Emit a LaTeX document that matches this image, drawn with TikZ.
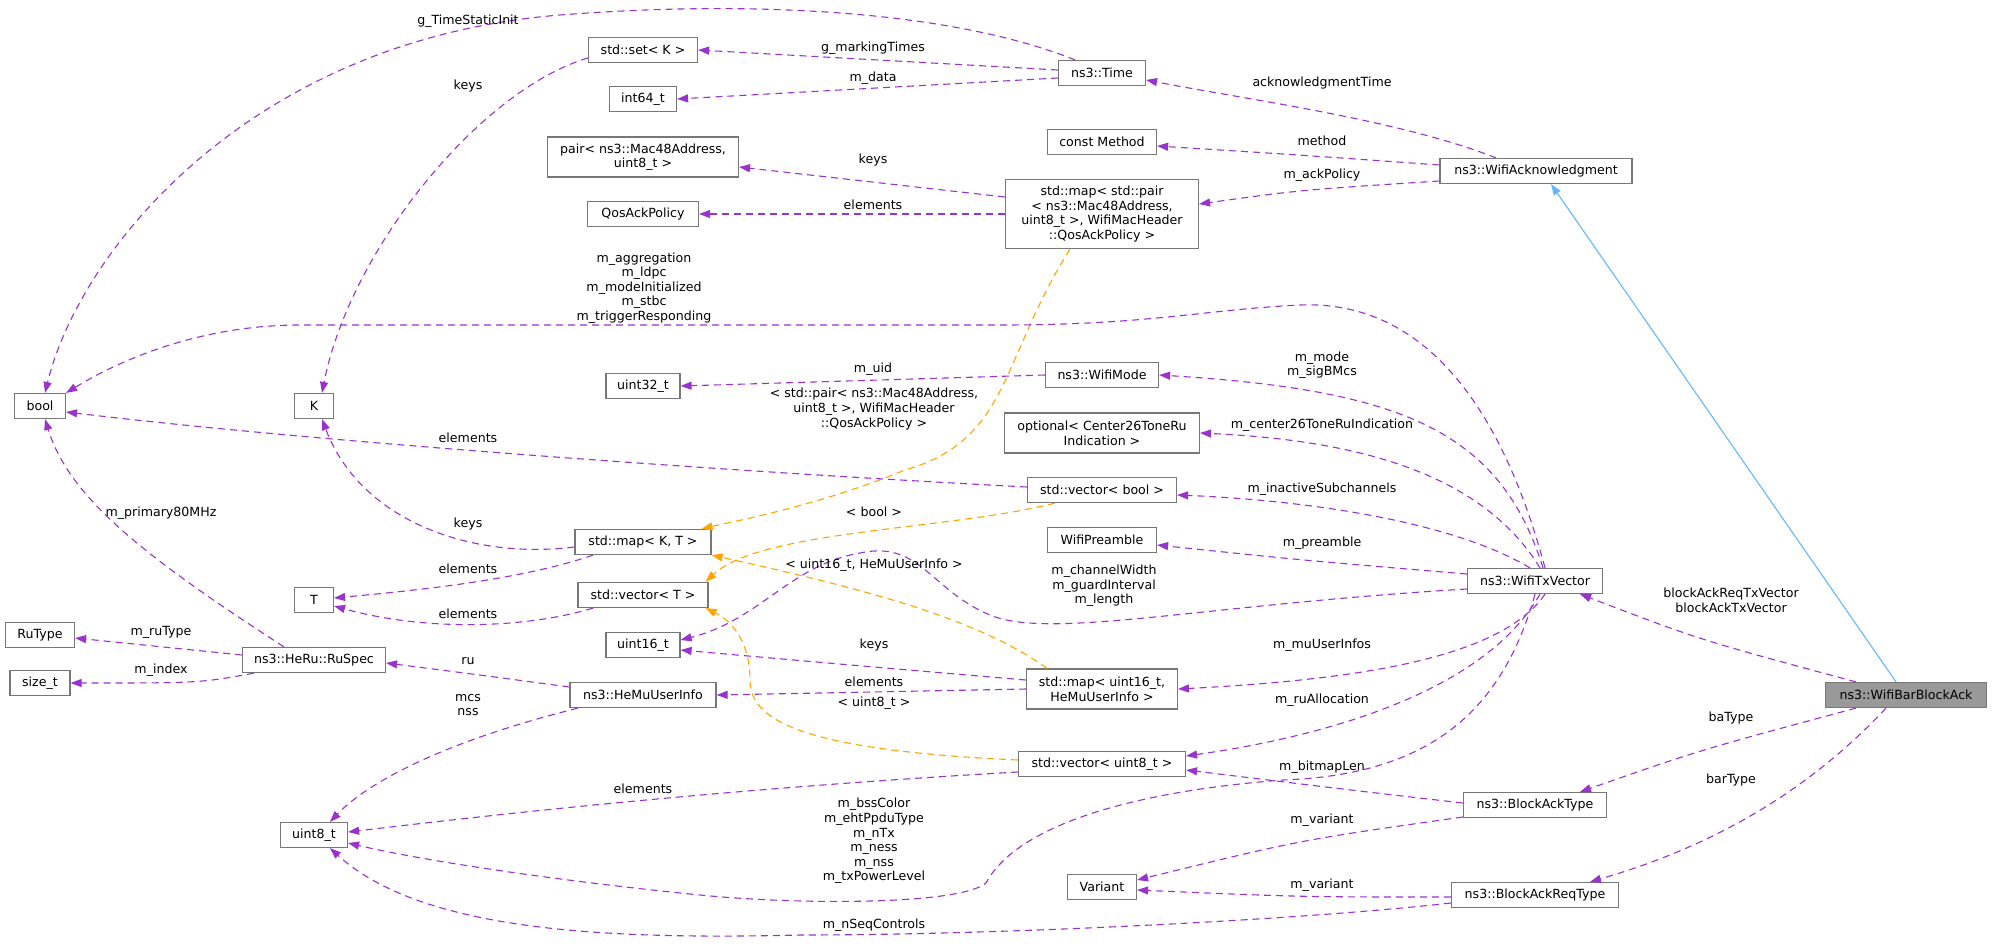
\documentclass[tikz,border=0pt]{standalone}
\usepackage{fontspec}
\setmainfont{DejaVu Sans}
\usetikzlibrary{arrows.meta}
\definecolor{edgep}{HTML}{9A32CD}
\definecolor{edgeo}{HTML}{FFA500}
\definecolor{edgeb}{HTML}{63B8FF}
\definecolor{boxc}{HTML}{777777}
\definecolor{selc}{HTML}{999999}
\begin{document}
\begin{tikzpicture}[x=1pt,y=-1pt,
 every node/.style={font=\fontsize{12.6}{14.6}\selectfont, inner sep=0pt},
 cls/.style={draw=boxc, line width=1.2pt, fill=white, minimum height=25pt, align=center},
 lbl/.style={align=center, text=black},
 mem/.style={draw=edgep, line width=1.1pt, dash pattern=on 7pt off 5pt, -{Triangle[length=11pt,width=8pt]}},
 tmpl/.style={mem, draw=edgeo},
 inh/.style={draw=edgeb, line width=1.1pt, -{Triangle[length=11pt,width=8pt]}}]
\fill[white] (0,0) rectangle (1992,945);
\useasboundingbox (0,0) rectangle (1992,945);
% nodes
\node[cls, minimum width=51pt] (bool) at (40,406) {bool};
\node[cls, minimum width=39pt] (K) at (314,406) {K};
\node[cls, minimum width=39pt] (T) at (314,600) {T};
\node[cls, minimum width=109pt] (set) at (643,50) {std::set< K >};
\node[cls, minimum width=67pt] (int) at (643,99) {int64\_t};
\node[cls, minimum width=191pt, minimum height=40pt] (pair) at (643,157) {pair< ns3::Mac48Address,\\ uint8\_t >};
\node[cls, minimum width=111pt] (qos) at (643,214) {QosAckPolicy};
\node[cls, minimum width=74pt] (u32) at (643,386) {uint32\_t};
\node[cls, minimum width=136pt] (mapkt) at (643,542) {std::map< K, T >};
\node[cls, minimum width=130pt] (vt) at (643,595) {std::vector< T >};
\node[cls, minimum width=74pt] (u16) at (643,645) {uint16\_t};
\node[cls, minimum width=146pt] (hemu) at (643,695) {ns3::HeMuUserInfo};
\node[cls, minimum width=67pt] (uint8) at (314,835) {uint8\_t};
\node[cls, minimum width=69pt] (rutype) at (40,635) {RuType};
\node[cls, minimum width=60pt] (size) at (40,683) {size\_t};
\node[cls, minimum width=143pt] (ruspec) at (314,660) {ns3::HeRu::RuSpec};
\node[cls, minimum width=87pt] (time) at (1102,73) {ns3::Time};
\node[cls, minimum width=109pt] (cmethod) at (1102,142) {const Method};
\node[cls, minimum width=193pt, minimum height=69pt] (mpair) at (1102,214) {std::map< std::pair\\< ns3::Mac48Address,\\ uint8\_t >, WifiMacHeader\\::QosAckPolicy >};
\node[cls, minimum width=192pt] (wack) at (1536,171) {ns3::WifiAcknowledgment};
\node[cls, minimum width=113pt] (wmode) at (1102,375) {ns3::WifiMode};
\node[cls, minimum width=195pt, minimum height=40pt] (opt) at (1102,433) {optional< Center26ToneRu\\Indication >};
\node[cls, minimum width=149pt] (vbool) at (1102,490) {std::vector< bool >};
\node[cls, minimum width=109pt] (wpre) at (1102,540) {WifiPreamble};
\node[cls, minimum width=151pt, minimum height=40pt] (mu16) at (1102,689) {std::map< uint16\_t,\\HeMuUserInfo >};
\node[cls, minimum width=167pt] (vu8) at (1102,764) {std::vector< uint8\_t >};
\node[cls, minimum width=69pt] (variant) at (1102,887) {Variant};
\node[cls, minimum width=135pt] (txv) at (1535,581) {ns3::WifiTxVector};
\node[cls, minimum width=143pt] (bat) at (1535,805) {ns3::BlockAckType};
\node[cls, minimum width=167pt] (barq) at (1535,895) {ns3::BlockAckReqType};
\node[cls, minimum width=161pt, fill=selc] (wbba) at (1906,695) {ns3::WifiBarBlockAck};
% edges
\draw[mem] ([xshift=-27pt]time.north) .. controls (950,10) and (750,0) .. (560,15) .. controls (250,40) and (80,250) .. ([xshift=5pt]bool.north);
\draw[mem] ([yshift=3pt]time.west) -- (set.east);
\draw[mem] ([yshift=-5pt]time.west) -- (int.east);
\draw[mem] ([yshift=-8pt]set.west) .. controls (480,90) and (350,250) .. ([xshift=8pt]K.north);
\draw[mem] ([xshift=-40pt]wack.north) .. controls (1400,120) and (1250,100) .. ([yshift=-7pt]time.east);
\draw[mem] ([yshift=6pt]wack.west) .. controls (1300,155) .. ([yshift=-4pt]cmethod.east);
\draw[mem] ([yshift=-10pt]wack.west) .. controls (1300,190) .. ([yshift=10pt]mpair.east);
\draw[mem] ([yshift=17pt]mpair.west) -- ([yshift=-10pt]pair.east);
\draw[mem] (mpair.west) -- (qos.east);
\draw[tmpl] ([xshift=-32pt]mpair.south) .. controls (1000,360) and (1010,440) .. (905,470) .. controls (820,505) and (740,520) .. ([xshift=-10pt]mapkt.north east);
\draw[mem] ([xshift=10pt]txv.north) .. controls (1500,400) and (1420,300) .. (1300,305) .. controls (1200,310) and (1150,325) .. (1000,325) -- (300,325) .. controls (200,325) and (120,360) .. (bool.north east);
\draw[mem] (wmode.west) -- (u32.east);
\draw[mem] ([xshift=8pt]txv.north) .. controls (1500,430) and (1400,390) .. (wmode.east);
\draw[mem] ([xshift=5pt]txv.north) .. controls (1480,470) and (1350,440) .. (opt.east);
\draw[mem] ([yshift=3pt]vbool.west) .. controls (700,470) and (300,440) .. ([yshift=-6pt]bool.east);
\draw[tmpl] ([xshift=-47pt]vbool.south) .. controls (950,530) and (760,530) .. ([xshift=-3pt]vt.north east);
\draw[mem] ([xshift=-5pt]txv.north) .. controls (1450,520) and (1300,500) .. ([yshift=-5pt]vbool.east);
\draw[mem] ([yshift=-5pt]mapkt.west) .. controls (470,560) and (360,520) .. ([xshift=8pt]K.south);
\draw[mem] ([xshift=-50pt]mapkt.south) .. controls (520,580) and (420,590) .. ([yshift=2pt]T.east);
\draw[mem] ([xshift=-50pt]vt.south) .. controls (520,630) and (420,630) .. ([yshift=-6pt]T.east);
\draw[mem] ([xshift=-30pt]ruspec.north) .. controls (150,560) and (70,500) .. ([xshift=5pt]bool.south);
\draw[mem] ([yshift=5pt]ruspec.west) -- ([yshift=-3pt]rutype.east);
\draw[mem] ([xshift=-60pt]ruspec.south) .. controls (200,683) .. (size.east);
\draw[mem] ([yshift=7pt]txv.west) .. controls (1300,560) .. ([yshift=-5pt]wpre.east);
\draw[mem] ([yshift=-8pt]txv.west) .. controls (1200,605) and (1050,640) .. (990,615) .. controls (930,590) and (920,540) .. (860,553) .. controls (790,565) and (760,620) .. ([yshift=5pt]u16.east);
\draw[mem] ([yshift=9pt]mu16.west) .. controls (850,665) .. ([yshift=-5pt]u16.east);
\draw[mem] (mu16.west) -- (hemu.east);
\draw[tmpl] ([xshift=-55pt]mu16.north) .. controls (980,620) and (870,590) .. (mapkt.south east);
\draw[tmpl] ([yshift=4pt]vu8.west) .. controls (800,750) and (750,720) .. (750,680) .. controls (750,640) and (730,620) .. ([xshift=-3pt]vt.south east);
\draw[mem] ([yshift=8pt]hemu.west) .. controls (480,675) .. ([yshift=-3pt]ruspec.east);
\draw[mem] ([xshift=-65pt]hemu.south) .. controls (450,740) and (370,780) .. ([xshift=16pt]uint8.north);
\draw[mem] ([xshift=10pt]txv.south) .. controls (1500,660) and (1350,680) .. (mu16.east);
\draw[mem] ([xshift=5pt]txv.south) .. controls (1480,700) and (1300,740) .. ([yshift=8pt]vu8.east);
\draw[mem] ([yshift=-8pt]vu8.west) .. controls (700,790) and (450,820) .. ([yshift=3pt]uint8.east);
\draw[mem] (txv.south) .. controls (1500,720) and (1420,775) .. (1283,780) .. controls (1150,790) and (1020,820) .. (986,883) .. controls (960,905) and (800,905) .. (700,895) .. controls (550,880) and (420,860) .. ([yshift=-8pt]uint8.east);
\draw[mem] ([yshift=2pt]bat.west) .. controls (1350,790) .. ([yshift=-6pt]vu8.east);
\draw[mem] ([yshift=-12pt]bat.west) .. controls (1300,840) .. ([yshift=7pt]variant.east);
\draw[mem] ([yshift=-2pt]barq.west) .. controls (1300,897) .. ([yshift=-3pt]variant.east);
\draw[mem] ([yshift=-8pt]barq.west) .. controls (1300,920) and (1000,935) .. (800,935) .. controls (600,940) and (420,930) .. ([xshift=16pt]uint8.south);
\draw[mem] ([xshift=-50pt]wbba.north) .. controls (1700,640) .. ([xshift=45pt]txv.south);
\draw[mem] ([xshift=-50pt]wbba.south) .. controls (1700,750) .. ([xshift=45pt]bat.north);
\draw[mem] ([xshift=-20pt]wbba.south) .. controls (1800,800) and (1700,850) .. ([xshift=55pt]barq.north);
\draw[inh] ([xshift=-10pt]wbba.north) -- ([xshift=15pt]wack.south);
% labels
\node[lbl] (l1) at (468,21) {g\_TimeStaticInit};
\node[lbl] (l2) at (873,48) {g\_markingTimes};
\node[lbl] (l3) at (873,78) {m\_data};
\node[lbl] (l4) at (468,86) {keys};
\node[lbl] (l5) at (1322,83) {acknowledgmentTime};
\node[lbl] (l6) at (1322,141) {method};
\node[lbl] (l7) at (1322,175) {m\_ackPolicy};
\node[lbl] (l8) at (873,160) {keys};
\node[lbl] (l9) at (873,205) {elements};
\node[lbl] (l10) at (644,288) {m\_aggregation\\m\_ldpc\\m\_modeInitialized\\m\_stbc\\m\_triggerResponding};
\node[lbl] (l11) at (873,369) {m\_uid};
\node[lbl] (l12) at (874,409) {< std::pair< ns3::Mac48Address,\\uint8\_t >, WifiMacHeader\\::QosAckPolicy >};
\node[lbl] (l13) at (1322,365) {m\_mode\\m\_sigBMcs};
\node[lbl] (l14) at (1322,425) {m\_center26ToneRuIndication};
\node[lbl] (l15) at (468,438) {elements};
\node[lbl] (l16) at (1322,489) {m\_inactiveSubchannels};
\node[lbl] (l17) at (874,512) {< bool >};
\node[lbl] (l18) at (161,513) {m\_primary80MHz};
\node[lbl] (l19) at (468,524) {keys};
\node[lbl] (l20) at (1322,543) {m\_preamble};
\node[lbl] (l21) at (874,565) {< uint16\_t, HeMuUserInfo >};
\node[lbl] (l22) at (468,569) {elements};
\node[lbl] (l23) at (1104,586) {m\_channelWidth\\m\_guardInterval\\m\_length};
\node[lbl] (l24) at (468,614) {elements};
\node[lbl] (l25) at (1731,600) {blockAckReqTxVector\\blockAckTxVector};
\node[lbl] (l26) at (161,632) {m\_ruType};
\node[lbl] (l27) at (874,645) {keys};
\node[lbl] (l28) at (1322,645) {m\_muUserInfos};
\node[lbl] (l29) at (468,661) {ru};
\node[lbl] (l30) at (161,670) {m\_index};
\node[lbl] (l31) at (874,682) {elements};
\node[lbl] (l32) at (468,705) {mcs\\nss};
\node[lbl] (l33) at (1322,700) {m\_ruAllocation};
\node[lbl] (l34) at (874,703) {< uint8\_t >};
\node[lbl] (l35) at (1731,718) {baType};
\node[lbl] (l36) at (1322,767) {m\_bitmapLen};
\node[lbl] (l37) at (1731,780) {barType};
\node[lbl] (l38) at (643,789) {elements};
\node[lbl] (l39) at (874,841) {m\_bssColor\\m\_ehtPpduType\\m\_nTx\\m\_ness\\m\_nss\\m\_txPowerLevel};
\node[lbl] (l40) at (1322,820) {m\_variant};
\node[lbl] (l41) at (1322,885) {m\_variant};
\node[lbl] (l42) at (874,925) {m\_nSeqControls};
\end{tikzpicture}
\end{document}
